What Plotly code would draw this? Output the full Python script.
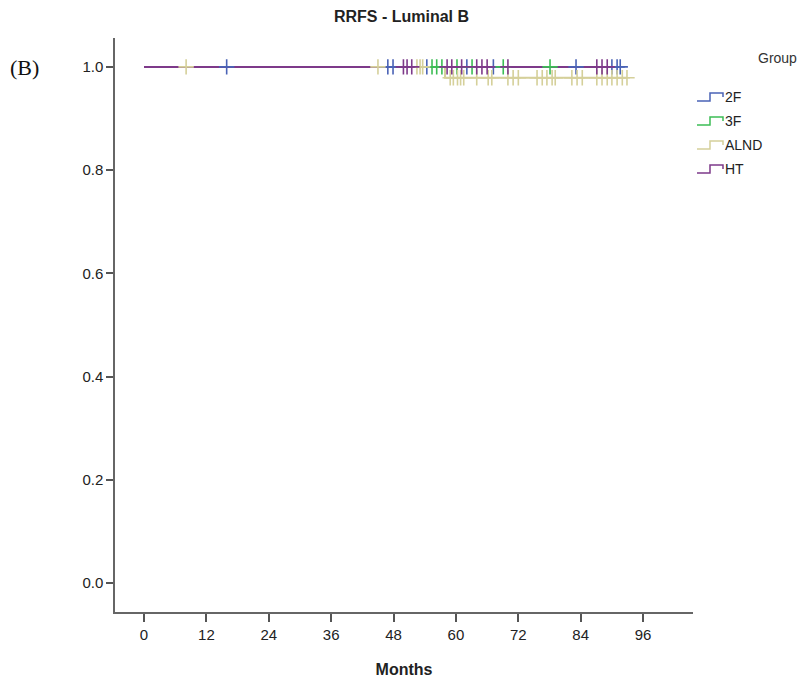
import plotly.graph_objects as go

# ---- data ----
groups = ["2F", "3F", "ALND", "HT"]
colors = ["#4a63b6", "#3cbd55", "#d5d09a", "#7e3a8a"]

# follow-up end (months) for each group's step line
end_time = {"2F": 91.6, "3F": 78.1, "ALND": 92.9, "HT": 89.1}
# events: (time, survival after event)
events = {"2F": [], "3F": [], "ALND": [(57.9, 0.979)], "HT": []}
# censored times
censor = {
    "2F": [15.9, 46.9, 47.9, 54.4, 62.1, 67.2, 83.1, 90.0, 91.0, 91.6],
    "3F": [55.4, 56.3, 57.3, 60.2, 63.1, 69.1, 78.1],
    "ALND": [8.1, 45.0, 52.5, 53.1, 53.6,
             58.9, 59.5, 60.3, 60.9, 61.5, 64.0, 66.2, 66.9, 70.0, 71.0, 72.0,
             75.6, 76.6, 77.5, 78.5, 79.1, 82.3, 83.3, 84.3,
             87.1, 88.1, 89.1, 90.0, 91.0, 92.0, 92.9],
    "HT": [49.9, 50.6, 51.5, 58.3, 59.2, 61.1, 64.0, 65.0, 66.0, 70.0, 87.1, 88.1, 89.1],
}

x_ticks = [0, 12, 24, 36, 48, 60, 72, 84, 96]
y_ticks = [0.0, 0.2, 0.4, 0.6, 0.8, 1.0]


def surv_at(g, t):
    s = 1.0
    for et, sv in events[g]:
        if t >= et:
            s = sv
    return s


fig = go.Figure()
for g, c in zip(groups, colors):
    xs = [0.0] + [e[0] for e in events[g]] + [end_time[g]]
    ys = [1.0] + [e[1] for e in events[g]] + [surv_at(g, end_time[g])]
    fig.add_trace(go.Scatter(x=xs, y=ys, mode="lines", line=dict(color=c, width=2, shape="hv"),
                             showlegend=False, hoverinfo="skip"))
for g, c in zip(groups, colors):
    fig.add_trace(go.Scatter(x=censor[g], y=[surv_at(g, t) for t in censor[g]], mode="markers",
                             marker=dict(symbol="cross-thin", size=11, line=dict(color=c, width=1.6)),
                             showlegend=False, hoverinfo="skip"))

# plot-area geometry in pixels (for placing the manual legend)
PL, PR, PT, PB = 115, 693, 38, 612
PW, PH = PR - PL, PB - PT


def ppx(x):
    return (x - PL) / PW


def ppy(y):
    return (PB - y) / PH


# manual legend (step glyphs)
lx0, ly0, dy = 697, 97, 24
for i, (g, c) in enumerate(zip(groups, colors)):
    y = ly0 + i * dy
    pts = [(lx0, y + 4), (lx0 + 13, y + 4), (lx0 + 13, y - 4), (lx0 + 26, y - 4), (lx0 + 26, y)]
    path = "M " + " L ".join(f"{ppx(a):.5f} {ppy(b):.5f}" for a, b in pts)
    fig.add_shape(type="path", xref="paper", yref="paper", path=path,
                  line=dict(color=c, width=1.5), layer="above")
    fig.add_annotation(text=g, xref="paper", yref="paper", x=ppx(lx0 + 26), y=ppy(y),
                       xanchor="left", yanchor="middle", showarrow=False,
                       font=dict(size=14, color="#222"))

fig.update_layout(
    width=803, height=687,
    margin=dict(l=PL, r=803 - PR, t=PT, b=687 - PB),
    plot_bgcolor="white", paper_bgcolor="white",
    font=dict(family="Liberation Sans, Arial", size=15, color="#222"),
    title=dict(text="<b>RRFS - Luminal B</b>", x=0.5, xanchor="center", y=1 - 16 / 687, yanchor="middle",
               font=dict(size=16, color="#222")),
    xaxis=dict(range=[-5.58, 105.6], tickvals=x_ticks, ticks="outside", ticklen=8, tickwidth=1.5,
               tickcolor="#555", showline=True, linecolor="#666", linewidth=1.5, showgrid=False,
               zeroline=False, title=dict(text="<b>Months</b>", font=dict(size=16), standoff=22)),
    yaxis=dict(range=[-0.056, 1.056], tickvals=y_ticks, tickformat=".1f", ticks="outside", ticklen=7,
               tickwidth=1.5, tickcolor="#555", showline=True, linecolor="#666", linewidth=1.5,
               showgrid=False, zeroline=False),
)
fig.add_annotation(text="(B)", xref="paper", yref="paper", x=ppx(8), y=ppy(67),
                   xanchor="left", yanchor="middle", showarrow=False,
                   font=dict(family="Liberation Serif, Times New Roman", size=22, color="#111"))
fig.add_annotation(text="Group", xref="paper", yref="paper", x=ppx(799), y=ppy(58),
                   xanchor="right", yanchor="middle", showarrow=False, font=dict(size=14, color="#333"))

fig.write_html("out.html", config={"displayModeBar": False},
               post_script="document.body.style.margin='0';")
